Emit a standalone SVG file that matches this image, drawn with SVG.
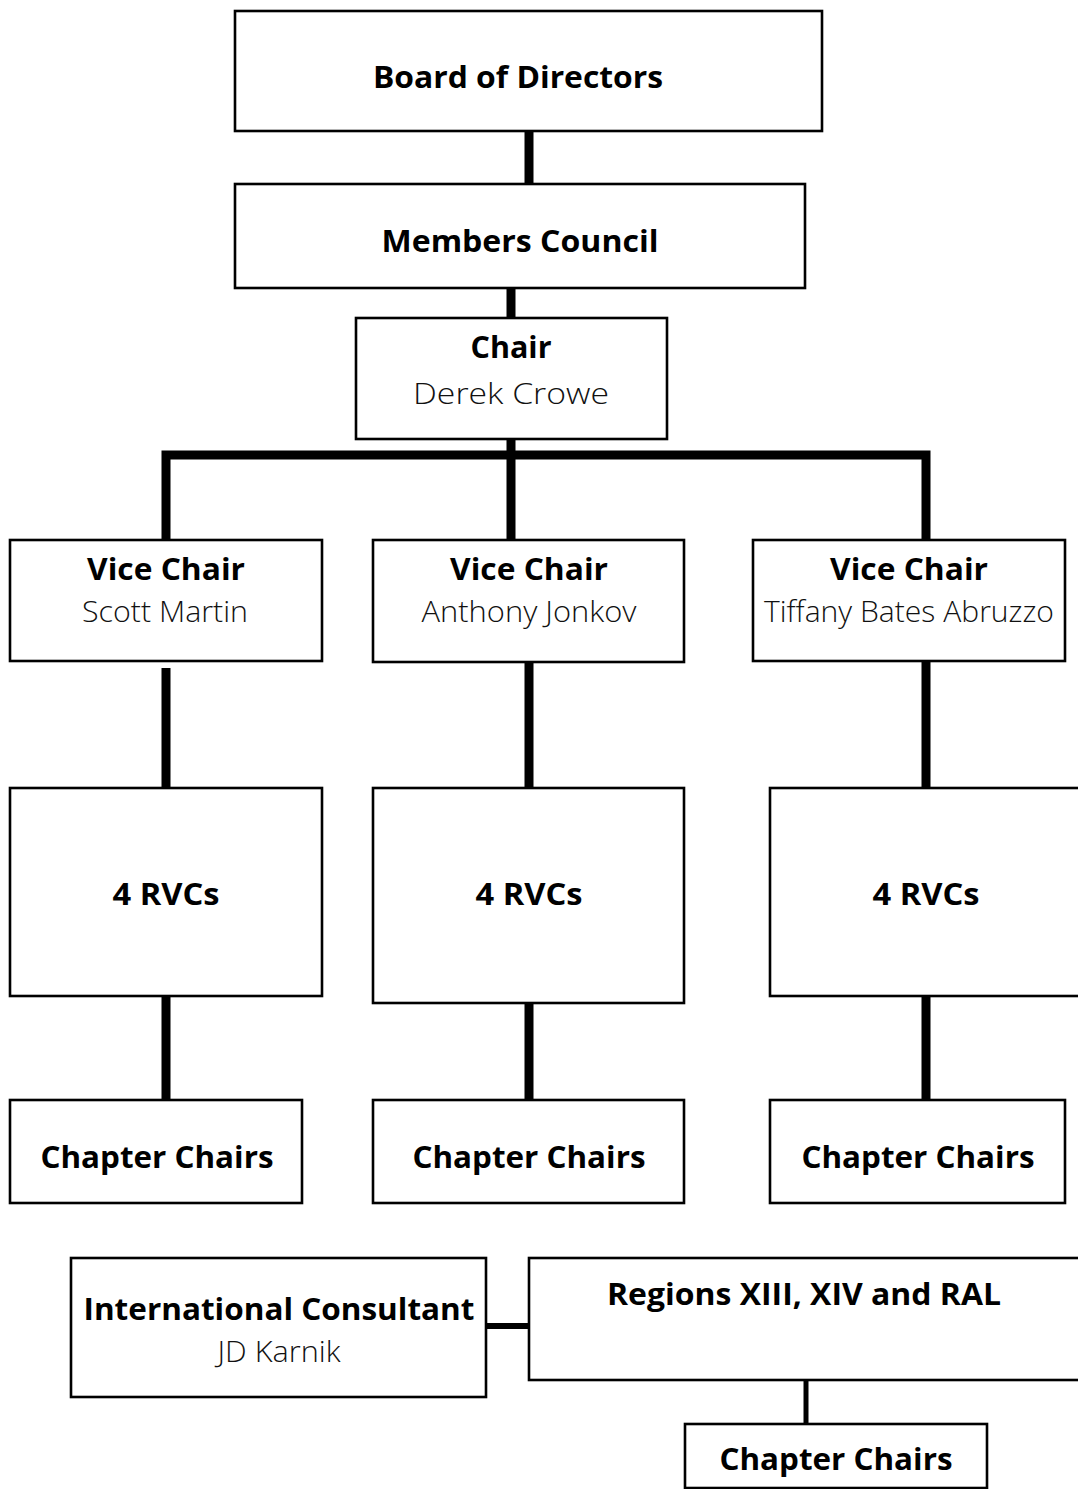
<svg xmlns="http://www.w3.org/2000/svg" width="1078" height="1489" viewBox="0 0 1078 1489">
<style>
.box{fill:#fff;stroke:#000;stroke-width:2.6}
.t{font-family:"Open Sans","Noto Sans","Liberation Sans",sans-serif;font-weight:700;font-size:31px;fill:#000;text-anchor:middle}
.n{font-family:"Open Sans","Noto Sans","Liberation Sans",sans-serif;font-weight:300;font-size:29px;fill:#111;text-anchor:middle}
.c{stroke:#000;fill:none;stroke-width:9}
</style>
<rect width="1078" height="1489" fill="#fff"/>
<g id="connectors">
<line class="c" x1="529" y1="131" x2="529" y2="184"/>
<line class="c" x1="511" y1="288" x2="511" y2="318"/>
<line class="c" x1="511" y1="439" x2="511" y2="540"/>
<polyline class="c" points="166,540 166,455 926,455 926,540"/>
<line class="c" x1="166" y1="668" x2="166" y2="788"/>
<line class="c" x1="529" y1="662" x2="529" y2="789"/>
<line class="c" x1="926" y1="661" x2="926" y2="789"/>
<line class="c" x1="166" y1="993" x2="166" y2="1100"/>
<line class="c" x1="529" y1="1003" x2="529" y2="1102"/>
<line class="c" x1="926" y1="993" x2="926" y2="1100"/>
<line stroke="#000" stroke-width="6" x1="486" y1="1326" x2="529" y2="1326"/>
<line stroke="#000" stroke-width="5" x1="806" y1="1380" x2="806" y2="1424"/>
</g>
<g id="board"><rect class="box" x="235" y="11" width="587" height="120"/><text class="t" x="518" y="88" textLength="290" lengthAdjust="spacingAndGlyphs">Board of Directors</text></g>
<g id="members"><rect class="box" x="235" y="184" width="570" height="104"/><text class="t" x="520" y="252" textLength="277" lengthAdjust="spacingAndGlyphs">Members Council</text></g>
<g id="chair"><rect class="box" x="356" y="318" width="311" height="121"/><text class="t" x="511" y="358" textLength="81" lengthAdjust="spacingAndGlyphs">Chair</text><text class="n" x="511" y="404" font-size="31" textLength="196" lengthAdjust="spacingAndGlyphs">Derek Crowe</text></g>
<g id="vc1"><rect class="box" x="10" y="540" width="312" height="121"/><text class="t" x="166" y="580" textLength="158" lengthAdjust="spacingAndGlyphs">Vice Chair</text><text class="n" x="165" y="622" textLength="166" lengthAdjust="spacingAndGlyphs">Scott Martin</text></g>
<g id="vc2"><rect class="box" x="373" y="540" width="311" height="122"/><text class="t" x="529" y="580" textLength="158" lengthAdjust="spacingAndGlyphs">Vice Chair</text><text class="n" x="529" y="622" textLength="215" lengthAdjust="spacingAndGlyphs">Anthony Jonkov</text></g>
<g id="vc3"><rect class="box" x="753" y="540" width="312" height="121"/><text class="t" x="909" y="580" textLength="158" lengthAdjust="spacingAndGlyphs">Vice Chair</text><text class="n" x="909" y="622" textLength="290" lengthAdjust="spacingAndGlyphs">Tiffany Bates Abruzzo</text></g>
<g id="rvc1"><rect class="box" x="10" y="788" width="312" height="208"/><text class="t" x="166" y="905" textLength="107" lengthAdjust="spacingAndGlyphs">4 RVCs</text></g>
<g id="rvc2"><rect class="box" x="373" y="788" width="311" height="215"/><text class="t" x="529" y="905" textLength="107" lengthAdjust="spacingAndGlyphs">4 RVCs</text></g>
<g id="rvc3"><rect class="box" x="770" y="788" width="312" height="208"/><text class="t" x="926" y="905" textLength="107" lengthAdjust="spacingAndGlyphs">4 RVCs</text></g>
<g id="cc1"><rect class="box" x="10" y="1100" width="292" height="103"/><text class="t" x="157" y="1168" textLength="233" lengthAdjust="spacingAndGlyphs">Chapter Chairs</text></g>
<g id="cc2"><rect class="box" x="373" y="1100" width="311" height="103"/><text class="t" x="529" y="1168" textLength="233" lengthAdjust="spacingAndGlyphs">Chapter Chairs</text></g>
<g id="cc3"><rect class="box" x="770" y="1100" width="295" height="103"/><text class="t" x="918" y="1168" textLength="233" lengthAdjust="spacingAndGlyphs">Chapter Chairs</text></g>
<g id="intl"><rect class="box" x="71" y="1258" width="415" height="139"/><text class="t" x="279" y="1320" textLength="391" lengthAdjust="spacingAndGlyphs">International Consultant</text><text class="n" x="279" y="1362" textLength="123" lengthAdjust="spacingAndGlyphs">JD Karnik</text></g>
<g id="regions"><rect class="box" x="529" y="1258" width="553" height="122"/><text class="t" x="804" y="1305" textLength="394" lengthAdjust="spacingAndGlyphs">Regions XIII, XIV and RAL</text></g>
<g id="cc4"><rect class="box" x="685" y="1424" width="302" height="64"/><text class="t" x="836" y="1470" textLength="233" lengthAdjust="spacingAndGlyphs">Chapter Chairs</text></g>
</svg>
